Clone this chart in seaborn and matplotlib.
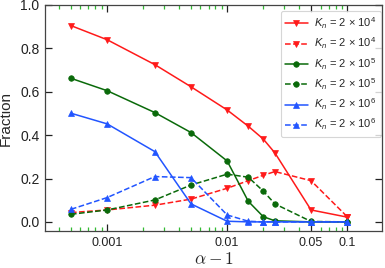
import matplotlib
matplotlib.use("Agg")
import matplotlib.pyplot as plt
import seaborn as sns
import numpy as np
from matplotlib.ticker import FixedLocator, FixedFormatter, NullFormatter
from matplotlib.font_manager import FontProperties

# ---- data ----
alpha_m1 = [0.0005, 0.001, 0.0025, 0.005, 0.01, 0.015, 0.02, 0.025, 0.05, 0.1]
red_solid = [0.905, 0.840, 0.725, 0.623, 0.516, 0.441, 0.382, 0.318, 0.055, 0.022]
red_dash = [0.043, 0.055, 0.077, 0.105, 0.155, 0.190, 0.215, 0.232, 0.190, 0.024]
green_solid = [0.662, 0.605, 0.504, 0.412, 0.281, 0.095, 0.024, 0.005, 0.0, 0.0]
green_dash = [0.035, 0.055, 0.101, 0.170, 0.220, 0.206, 0.142, 0.083, 0.002, 0.0]
blue_solid = [0.501, 0.452, 0.324, 0.083, 0.003, 0.0, 0.0, 0.0, 0.0, 0.0]
blue_dash = [0.058, 0.112, 0.209, 0.204, 0.032, 0.003, 0.0, 0.0, 0.0, 0.0]
labels = [r"$K_n$ = 2 $\times$ 10$^4$", r"$K_n$ = 2 $\times$ 10$^4$",
          r"$K_n$ = 2 $\times$ 10$^5$", r"$K_n$ = 2 $\times$ 10$^5$",
          r"$K_n$ = 2 $\times$ 10$^6$", r"$K_n$ = 2 $\times$ 10$^6$"]
xtick_vals = [0.001, 0.01, 0.05, 0.1]
xtick_labels = ["0.001", "0.01", "0.05", "0.1"]
ytick_vals = [0.0, 0.2, 0.4, 0.6, 0.8, 1.0]

sns.set_theme(style="ticks")
plt.rcParams["font.family"] = ["Liberation Sans", "DejaVu Sans"]
plt.rcParams["mathtext.fontset"] = "custom"
plt.rcParams["mathtext.rm"] = "Liberation Sans"
plt.rcParams["mathtext.it"] = "Liberation Sans:italic"
plt.rcParams["mathtext.bf"] = "Liberation Sans:bold"

fig = plt.figure(figsize=(3.85, 2.68), dpi=100)
ax = fig.add_axes([45/385, 1-231/268, (382-45)/385, (231-5)/268])

RED = "#ff1a1a"
GREEN = "#0a6a0a"
BLUE = "#2255ff"
series = [
    (red_solid, RED, "v", "-"),
    (red_dash, RED, "v", "--"),
    (green_solid, GREEN, "o", "-"),
    (green_dash, GREEN, "o", "--"),
    (blue_solid, BLUE, "^", "-"),
    (blue_dash, BLUE, "^", "--"),
]
for (vals, c, m, ls), lab in zip(series, labels):
    sns.lineplot(x=alpha_m1, y=vals, ax=ax, color=c, marker=m, linestyle=ls,
                 markersize=4, mec=c, mfc=c, mew=0.5, linewidth=1.1, label=lab)

ax.set_xscale("log")
ax.set_xlim(3.04e-4, 0.195)
ax.set_ylim(-0.042, 1.0)

ax.xaxis.set_major_locator(FixedLocator(xtick_vals))
ax.xaxis.set_major_formatter(FixedFormatter(xtick_labels))
minor = [m * 10.0**e for e in (-4, -3, -2, -1) for m in range(2, 10)]
minor = [v for v in minor if 3.04e-4 < v < 0.195 and not any(abs(v - t) / t < 1e-6 for t in xtick_vals)]
ax.xaxis.set_minor_locator(FixedLocator(minor))
ax.xaxis.set_minor_formatter(NullFormatter())
ax.set_yticks(ytick_vals)
ax.set_yticklabels([f"{v:.1f}" for v in ytick_vals])

ax.tick_params(axis="both", which="major", direction="in", length=5, width=0.9,
               colors="#222222", labelsize=10, top=True, right=True, pad=4)
ax.tick_params(axis="x", which="minor", direction="in", length=3, width=0.9,
               color="#33bb33", top=True, bottom=True)
ax.tick_params(axis="x", which="major", labelsize=9)
for s in ax.spines.values():
    s.set_color("#444444")
    s.set_linewidth(0.9)

ax.set_ylabel("Fraction", fontsize=11, labelpad=5)
fp = FontProperties(family="DejaVu Serif", size=12.5, math_fontfamily="cm")
ax.set_xlabel(r"$\alpha - 1$", fontproperties=fp, labelpad=2)

leg = ax.legend(loc="upper right", bbox_to_anchor=(1.0, 0.978), fontsize=8,
                frameon=True, fancybox=True, borderaxespad=0.1,
                handlelength=2.0, labelspacing=0.42, borderpad=0.4,
                handletextpad=0.6)
leg.get_frame().set_edgecolor("#cccccc")
leg.get_frame().set_linewidth(0.8)

fig.savefig("out.png", dpi=100)
